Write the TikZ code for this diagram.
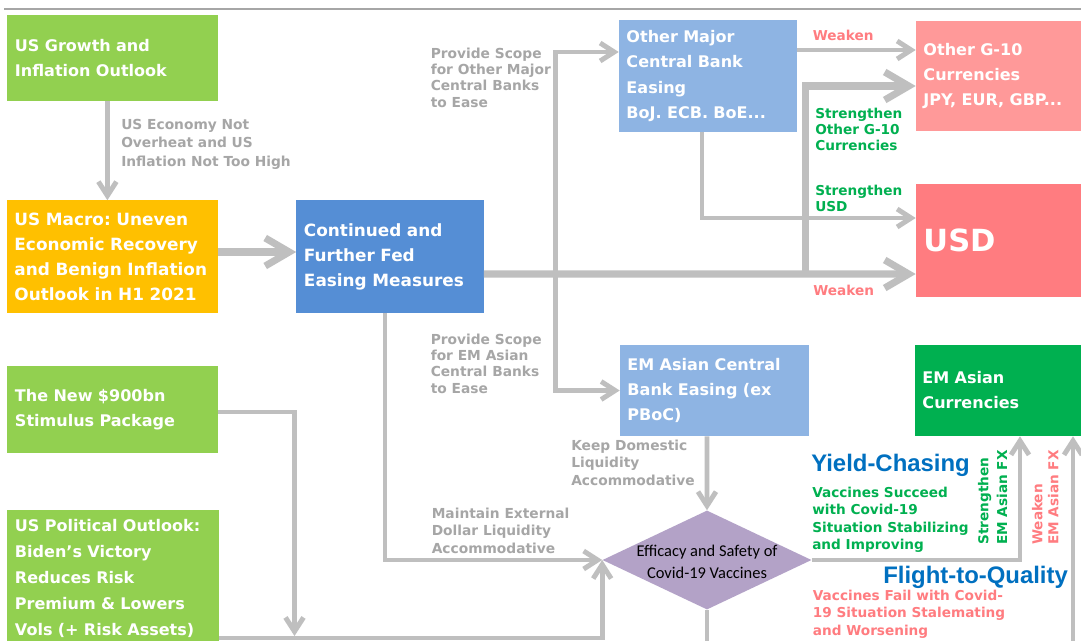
\documentclass[tikz,border=0pt]{standalone}
\usepackage{fontspec}
\setmainfont{DejaVu Sans}
\newfontfamily\headfont{Liberation Sans}
\newfontfamily\vaxfont{Carlito}
\usepackage{tikz}
\usetikzlibrary{arrows.meta, positioning, shapes.geometric}
\usepackage{xcolor}
\definecolor{boxgreen}{HTML}{92D050}
\definecolor{boxorange}{HTML}{FFC000}
\definecolor{fedblue}{HTML}{558ED5}
\definecolor{cbblue}{HTML}{8EB4E3}
\definecolor{g10pink}{HTML}{FF9999}
\definecolor{usdred}{HTML}{FF7C80}
\definecolor{emgreen}{HTML}{00B050}
\definecolor{vaxpurple}{HTML}{B3A2C7}
\definecolor{linegray}{HTML}{BFBFBF}
\definecolor{labelgray}{HTML}{A6A6A6}
\definecolor{textgreen}{HTML}{00B050}
\definecolor{textred}{HTML}{FF7C80}
\definecolor{titleblue}{HTML}{0070C0}
\frenchspacing

\begin{document}
\begin{tikzpicture}[
x=0.025cm, y=-0.025cm,
box/.style={rectangle, 
fill=#1, 
text=white, 
align=left, 
inner xsep=0.1875cm, 
inner ysep=0pt, 
font=\bfseries\fontsize{11.4}{17.8}\selectfont},
arrow/.style={draw=linegray, line width=3.5pt, -{Straight Barb[length=0.35cm, width=0.45cm]}},
bigarrow/.style={draw=linegray, line width=5pt, -{Straight Barb[length=0.6cm, width=0.7cm]}},
lbl/.style={anchor=north west, 
align=left, 
inner sep=0pt, 
text=labelgray, 
font=\bfseries\fontsize{9.8}{11.6}\selectfont},
fxlabel/.style={lbl, font=\bfseries\fontsize{9.7}{11.4}\selectfont},
headline/.style={anchor=west, inner sep=0pt, text=titleblue, font=\headfont\bfseries\fontsize{17}{20}\selectfont}
]

\useasboundingbox (0,0) rectangle (1081,640);
\fill[white] (0,0) rectangle (1081,640);
\clip (0,0) rectangle (1081,640);
\draw[labelgray, line width=1pt] (4,9) -- (1081,9);

\node[box=boxgreen, text width=4.875cm, minimum height=2.15cm] (growth) at (112.5,58) {US Growth and\\Inflation Outlook};
\node[box=boxorange, text width=4.9cm, minimum height=2.8cm, font=\bfseries\fontsize{12}{17.8}\selectfont] (macro) at (112.5,256.5) {US Macro: Uneven\\Economic Recovery\\and Benign Inflation\\Outlook in H1 2021};
\node[box=fedblue, text width=4.3cm, minimum height=2.8cm, font=\bfseries\fontsize{12}{17.8}\selectfont] (fed) at (390,256.5) {Continued and\\Further Fed\\Easing Measures};
\node[box=boxgreen, text width=4.875cm, minimum height=2.15cm] (stim) at (112.5,409.5) {The New \$900bn\\Stimulus Package};
\node[box=boxgreen, text width=4.9cm, minimum height=3.375cm, font=\bfseries\fontsize{11.4}{18.5}\selectfont] (polit) at (113,578) {US Political Outlook:\\Biden’s Victory\\Reduces Risk\\Premium \& Lowers\\Vols (+ Risk Assets)};
\node[box=cbblue, text width=4.075cm, minimum height=2.8cm] (omcb) at (708,76) {Other Major\\Central Bank\\Easing\\BoJ. ECB. BoE...};
\node[box=g10pink, text width=4.225cm, minimum height=2.75cm] (g10) at (1008,76) {Other G-10\\Currencies\\JPY, EUR, GBP...};
\node[box=usdred, text width=4.225cm, minimum height=2.825cm, font=\bfseries\fontsize{21.7}{26}\selectfont] (usd) at (1008,240.5) {USD};
\node[box=cbblue, text width=4.35cm, minimum height=2.275cm] (emcb) at (714.5,390.5) {EM Asian Central\\Bank Easing (ex\\PBoC)};
\node[box=emgreen, text width=4.25cm, minimum height=2.275cm] (emfx) at (1007.5,390.5) {EM Asian\\Currencies};
\node[diamond, fill=vaxpurple, inner sep=0pt, minimum width=5.225cm, minimum height=2.475cm, 
label={[yshift=-0.05cm, align=center, text=black, font=\vaxfont\fontsize{11.7}{15.6}\selectfont]center:Efficacy and Safety of\\Covid-19 Vaccines}] (vax) at (707,560) {};

\node[lbl, font=\bfseries\fontsize{9.8}{13.2}\selectfont] (econlbl) at (121,118.5) {US Economy Not\\Overheat and US\\Inflation Not Too High};
\node[lbl] (scopeg10) at (430.5,47.5) {Provide Scope\\for Other Major\\Central Banks\\to Ease};
\node[lbl] (scopeem) at (430.5,333.5) {Provide Scope\\for EM Asian\\Central Banks\\to Ease};
\node[lbl, font=\bfseries\fontsize{9.8}{12.6}\selectfont] (extlbl) at (431.5,507.5) {Maintain External\\Dollar Liquidity\\Accommodative};
\node[lbl, font=\bfseries\fontsize{9.8}{12.6}\selectfont] (domlbl) at (571,439.5) {Keep Domestic\\Liquidity\\Accommodative};
\node[fxlabel, text=textred] (wkg10) at (812.6,29.5) {Weaken};
\node[fxlabel, text=textgreen] (stg10) at (815,107.5) {Strengthen\\Other G-10\\Currencies};
\node[fxlabel, text=textgreen] (stusd) at (815,184.5) {Strengthen\\USD};
\node[fxlabel, text=textred] (wkusd) at (813,284.5) {Weaken};
\node[headline] (yield) at (811,465) {Yield-Chasing};
\node[fxlabel, text=textgreen, font=\bfseries\fontsize{9.7}{12.4}\selectfont] (succeed) at (812,486.5) {Vaccines Succeed\\with Covid-19\\Situation Stabilizing\\and Improving};
\node[headline] (flight) at (883,577.5) {Flight-to-Quality};
\node[fxlabel, text=textred, font=\bfseries\fontsize{9.7}{12.4}\selectfont] (fail) at (812.6,589.5) {Vaccines Fail with Covid-\\19 Situation Stalemating\\and Worsening};
\node[fxlabel, text=textgreen, rotate=90, font=\bfseries\fontsize{9.7}{13.5}\selectfont] (stem) at (977.6,545) {Strengthen\\EM Asian FX};
\node[fxlabel, text=textred, rotate=90] (wkem) at (1031.6,545) {Weaken\\EM Asian FX};

\coordinate (jcb) at (555.5,274);
\coordinate (jg10) at (805.7,274);
\coordinate (stimend) at (294.5,636);
\coordinate (fqlow) at (900,665);

\draw[arrow] ([xshift=-0.1275cm]growth.south) -- ([xshift=-0.1275cm]macro.north);
\draw[bigarrow] ([yshift=0.1125cm]macro.east) -- ([yshift=0.1125cm]fed.west);
\draw[bigarrow] ([yshift=-0.4375cm]fed.east) -- ([yshift=-0.8375cm]usd.west);
\draw[bigarrow] (jg10) |- ([yshift=-0.25cm]g10.west);
\draw[arrow] (jcb) |- ([yshift=0.6cm]omcb.west);
\draw[arrow] (jcb) |- (emcb.west);
\draw[arrow] ([yshift=0.65cm]omcb.east) -- ([yshift=0.65cm]g10.west);
\draw[arrow] ([xshift=-0.15cm]omcb.south) |- ([yshift=0.5625cm]usd.west);
\draw[arrow] ([xshift=-0.125cm]fed.south) |- (vax.west);
\draw[arrow] ([yshift=-0.0625cm]stim.east) -| (stimend);
\draw[arrow] ([yshift=-1.5cm]polit.east) -| (vax.west);
\draw[arrow] ([xshift=-0.1875cm]emcb.south) -- (vax.north);
\draw[arrow] (vax.east) -| ([xshift=0.3125cm]emfx.south);
\draw[arrow] (vax.south) |- (fqlow) -| ([xshift=1.6375cm]emfx.south);

\end{tikzpicture}
\end{document}
